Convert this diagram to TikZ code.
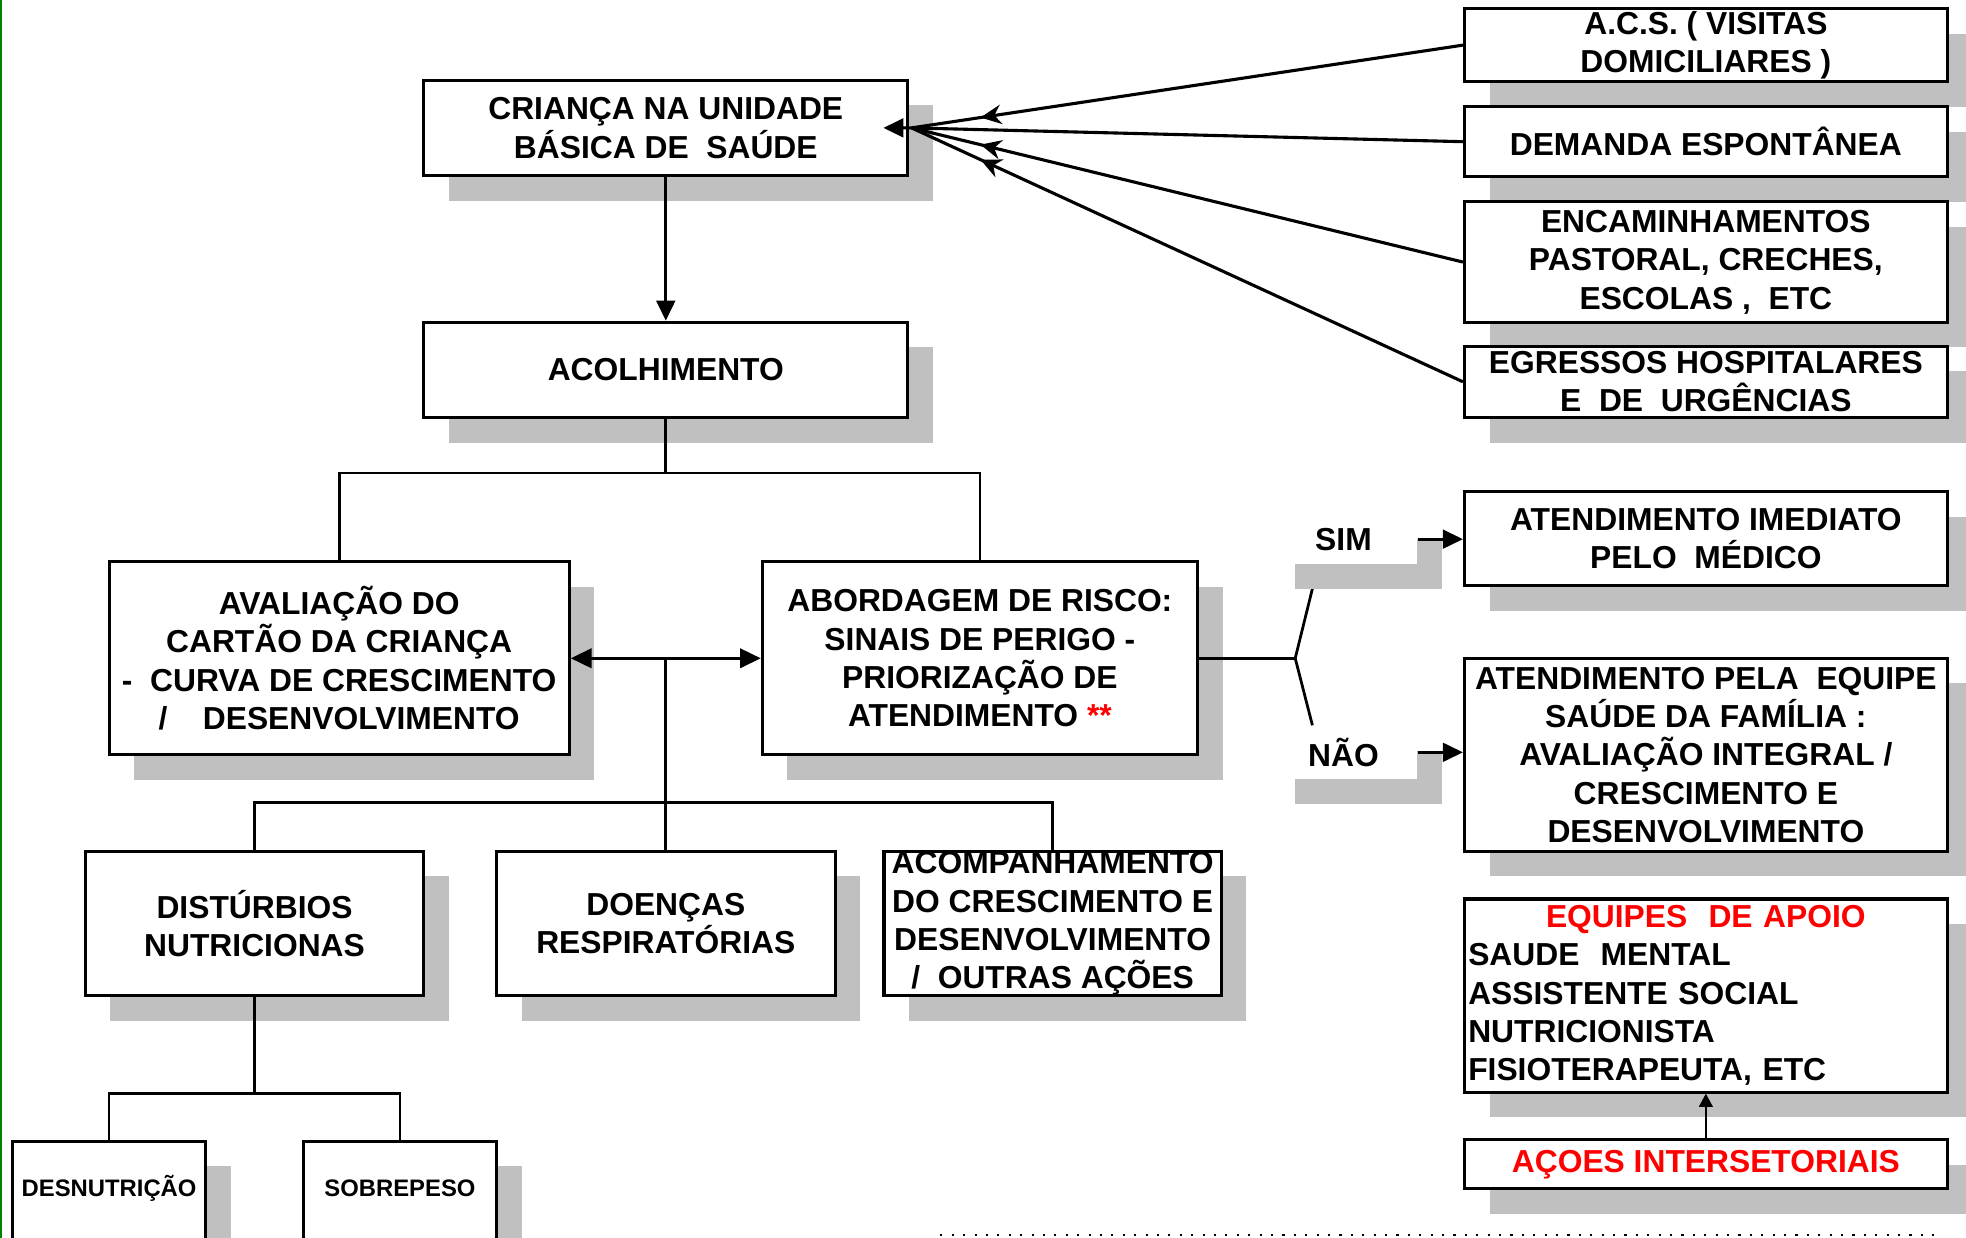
\documentclass[tikz,border=0pt]{standalone}
\usepackage{fontspec}
\setmainfont{Liberation Sans}
\usepackage{xcolor}
\usetikzlibrary{arrows.meta, shadows, decorations.markings, positioning}

\definecolor{sombra}{RGB}{192,192,192}
\definecolor{verde}{RGB}{0,128,0}
\def\px{0.36292pt}

\pgfdeclarelayer{fundo}
\pgfsetlayers{fundo,main}

\tikzset{
  caixa/.style={draw, line width=0.9pt, fill=white, align=center, inner sep=0pt,
    font=\bfseries\fontsize{9.2}{11.1}\selectfont,
    general shadow={fill=sombra, shadow xshift=7.26pt, shadow yshift=-7.26pt}},
  caixapeq/.style={caixa, font=\bfseries\fontsize{6.9}{8.3}\selectfont,
    text height=16pt, text depth=20.3pt},
  rotulo/.style={fill=white, inner sep=0pt, font=\bfseries\fontsize{9.2}{11.1}\selectfont,
    general shadow={fill=sombra, shadow xshift=7.26pt, shadow yshift=-7.26pt}},
  liga/.style={line width=0.8pt},
  seta/.style={liga, -{Triangle[length=5.8pt,width=5.4pt]}},
  setadupla/.style={liga, {Triangle[length=6pt,width=5.6pt]}-{Triangle[length=6pt,width=5.6pt]}},
  setafina/.style={line width=0.4pt, -{Triangle[length=3.8pt,width=4pt]}},
  setameio/.style={line width=0.9pt, postaction={decorate},
    decoration={markings, mark=at position 0.875 with {\arrow{Stealth[length=6pt,width=5.6pt]}}}}
}

\begin{document}
\begin{tikzpicture}[x=\px, y=-\px]

    \useasboundingbox (0,0) rectangle (1568,987);
    \clip (0,0) rectangle (1568,987);

    % margem verde
    \draw[verde, line width=0.6pt] (1,0) -- (1,987);

    % Coluna central
    \node[caixa, minimum width=386*\px, minimum height=76*\px] (cri) at (531,102) {CRIANÇA NA UNIDADE\\BÁSICA DE~~SAÚDE};
    \node[caixa, minimum width=386*\px, minimum height=76*\px] (acol) at (531,295) {ACOLHIMENTO};
    \node[caixa, minimum width=367*\px, minimum height=154*\px] (aval) at (270.5,525) {AVALIAÇÃO DO\\CARTÃO DA CRIANÇA\\-~~CURVA DE CRESCIMENTO\\/~~~~DESENVOLVIMENTO};
    \node[caixa, minimum width=347*\px, minimum height=154*\px] (abo) at (781.5,525) {ABORDAGEM DE RISCO:\\SINAIS DE PERIGO -\\PRIORIZAÇÃO DE\\ATENDIMENTO \textcolor{red}{**}};

    % Agravos
    \node[caixa, minimum width=270*\px, minimum height=115*\px] (dist) at (203,736.5) {DISTÚRBIOS\\NUTRICIONAS};
    \node[caixa, minimum width=270*\px, minimum height=115*\px] (doen) at (531,736.5) {DOENÇAS\\RESPIRATÓRIAS};
    \node[caixa, minimum width=269*\px, minimum height=115*\px] (acomp) at (839.5,736.5) {ACOMPANHAMENTO\\DO CRESCIMENTO E\\DESENVOLVIMENTO\\/~~OUTRAS AÇÕES};
    \node[caixapeq, minimum width=154*\px, anchor=north] (desn) at (87,909) {DESNUTRIÇÃO};
    \node[caixapeq, minimum width=154*\px, anchor=north] (sobre) at (319,909) {SOBREPESO};

    % Portas de entrada
    \node[caixa, minimum width=385*\px, minimum height=58*\px] (acs) at (1360.5,36) {A.C.S. ( VISITAS\\DOMICILIARES )};
    \node[caixa, minimum width=385*\px, minimum height=56*\px] (dem) at (1360.5,113) {DEMANDA ESPONTÂNEA};
    \node[caixa, minimum width=385*\px, minimum height=96*\px] (enc) at (1360.5,209) {ENCAMINHAMENTOS\\PASTORAL, CRECHES,\\ESCOLAS ,~~ETC};
    \node[caixa, minimum width=385*\px, minimum height=57*\px] (egr) at (1360.5,304.5) {EGRESSOS HOSPITALARES\\E~~DE~~URGÊNCIAS};

    % Condutas
    \node[caixa, minimum width=385*\px, minimum height=75*\px] (imed) at (1360.5,429.5) {ATENDIMENTO IMEDIATO\\PELO~~MÉDICO};
    \node[caixa, minimum width=385*\px, minimum height=154*\px] (equi) at (1360.5,602) {ATENDIMENTO PELA~~EQUIPE\\SAÚDE DA FAMÍLIA :\\AVALIAÇÃO INTEGRAL /\\CRESCIMENTO E\\DESENVOLVIMENTO};
    \node[caixa, minimum width=385*\px, minimum height=154*\px, align=left, text width=379*\px] (apoio) at (1360.5,794)
      {\makebox[\linewidth][c]{\color{red}EQUIPES~~DE APOIO}\\SAUDE~~MENTAL\\ASSISTENTE SOCIAL\\NUTRICIONISTA\\FISIOTERAPEUTA, ETC};
    \node[caixa, minimum width=385*\px, minimum height=39*\px] (acoes) at (1360.5,928.5) {\color{red}AÇOES INTERSETORIAIS};

    % SIM / NAO
    \node[rotulo, minimum width=117*\px, minimum height=40*\px] (sim) at (1071.5,430) {SIM};
    \node[rotulo, minimum width=117*\px, minimum height=42*\px] (nao) at (1071.5,600) {NÃO};

    % Ligacoes
    \draw[seta] (cri.south) -- (acol.north);
    \draw[liga] (acol.south) -- ++(0,43) coordinate (g1);
    \draw[liga] (g1) -| (aval.north);
    \draw[liga] (g1) -| (abo.north);

    \draw[setadupla] (aval.east) -- (abo.west);
    \path (aval.east) -- (abo.west) coordinate[midway] (m);
    \draw[liga] (m) -- ++(0,115) coordinate (g2);
    \draw[liga] (g2) -| (dist.north);
    \draw[liga] (g2) -- (doen.north);
    \draw[liga] (g2) -| (acomp.north);

    \draw[liga] (dist.south) -- ++(0,77) coordinate (g3);
    \draw[liga] (g3) -| (desn.north);
    \draw[liga] (g3) -| (sobre.north);

    % Entradas convergindo
    \coordinate (hub) at (727,102);
    \draw[setameio] (acs.west) -- (hub);
    \draw[setameio] (enc.west) -- (hub);
    \draw[setameio] (egr.west) -- (hub);
    \draw[line width=0.9pt, -{Triangle[length=5.8pt,width=5.4pt]}, shorten >=-7.5pt] (dem.west) -- (hub) -- (cri.east);

    % Risco
    \coordinate (garfo) at (1033,525);
    \draw[liga] (abo.east) -- (garfo);
    \begin{pgfonlayer}{fundo}
      \draw[liga] (garfo) -- ([xshift=-7.3pt]sim.south);
      \draw[liga] (garfo) -- ([xshift=-9pt]nao.north);
    \end{pgfonlayer}
    \draw[seta] (sim.east) -- (sim.east -| imed.west);
    \draw[seta] (nao.east) -- (nao.east -| equi.west);

    \draw[setafina] (acoes.north) -- (apoio.south);

    % pontilhado
    \draw[line width=0.6pt, dash pattern=on 0.6pt off 2.7pt] (750,985) -- (1547,985);

\end{tikzpicture}
\end{document}
